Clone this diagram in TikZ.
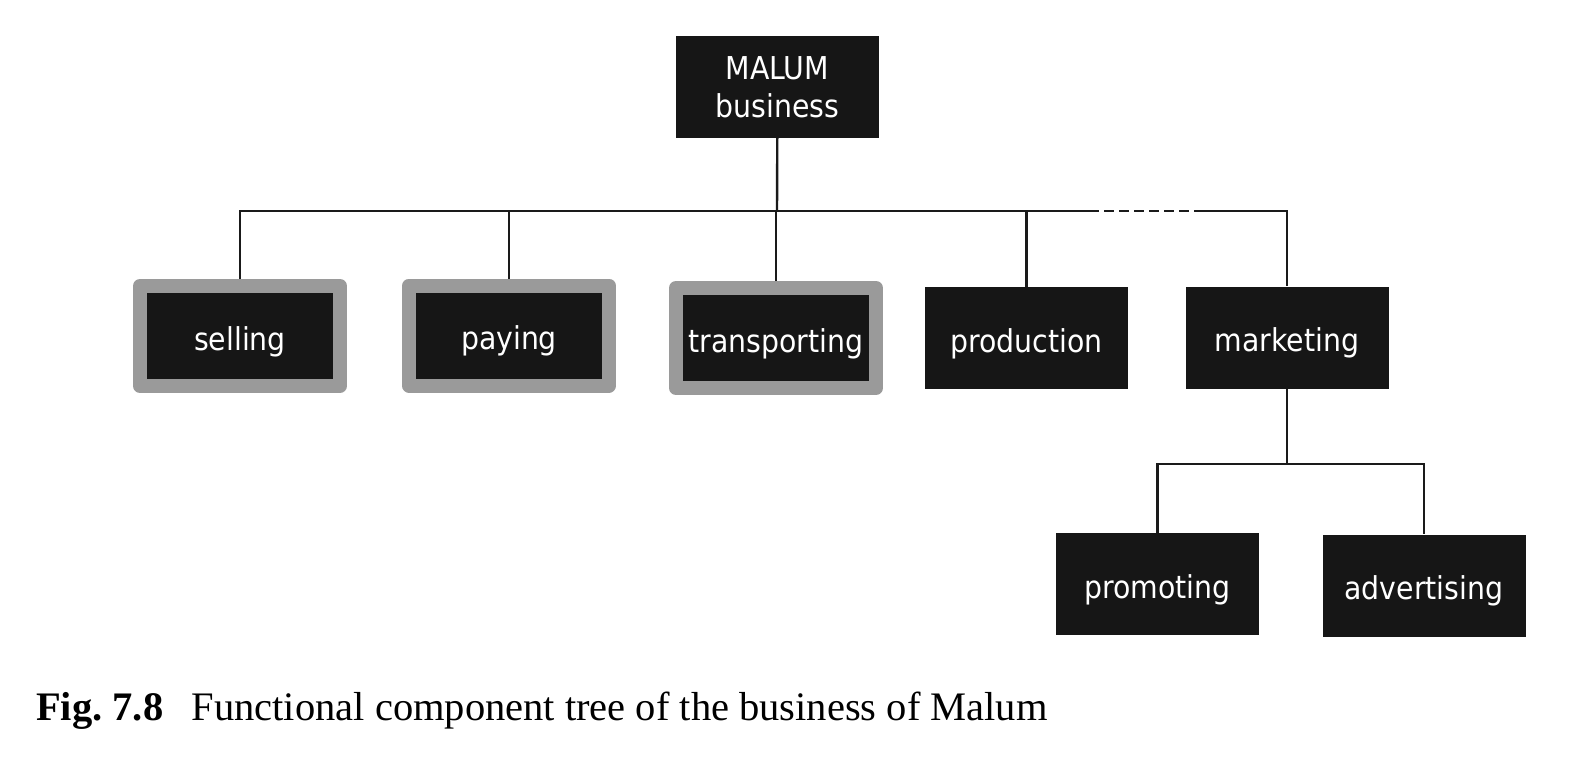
\documentclass[tikz,border=0pt]{standalone}
\usepackage{fontspec}
\setmainfont{Liberation Serif}
\newfontfamily\boxfont{DejaVu Sans Condensed}
\definecolor{boxblack}{HTML}{161616}
\definecolor{boxgray}{HTML}{9A9A9A}
\definecolor{linecol}{HTML}{1A1A1A}

\begin{document}
\begin{tikzpicture}[x=1pt, y=-1pt,
    block/.style = {fill=boxblack, text=white, inner sep=0pt,
        minimum width=203pt, minimum height=102pt, align=center,
        font=\boxfont\fontsize{31.5}{38}\selectfont},
    func/.style = {block, text height=28pt, text depth=0pt},
    framedfunc/.style = {func, draw=boxgray, line width=14pt,
        line join=round, outer sep=7pt,
        minimum width=200pt, minimum height=100pt},
    edge/.style = {draw=linecol, line width=2.4pt}]
            \useasboundingbox (0,0) rectangle (1580,770);

            % Nodes with manual coordinates
            \node[block] (top) at (777.5,87) {MALUM\\business};
            \node[framedfunc] (sell) at (240,336) {selling};
            \node[framedfunc] (pay) at (509,335.5) {paying};
            \node[framedfunc] (trans) at (776,338) {transporting};
            \node[func] (prod) at (1026.5,338) {production};
            \node[func] (mark) at (1287,337.5) {marketing};
            \node[func] (promo) at (1157.5,584) {promoting};
            \node[func] (adv) at (1424,585.5) {advertising};

            \coordinate (bus) at (777,211);
            \coordinate (gapl) at (1094,211);
            \coordinate (gapr) at (1200,211);
            \coordinate (sub) at (1287,464);

            % Edges
            \draw[edge] (top) -- (bus);
            \draw[edge] (sell.north) |- (gapl);
            \draw[edge, dash pattern=on 10pt off 5pt, dash phase=5pt] (gapl) -- (gapr);
            \draw[edge] (gapr) -| (mark.north);
            \draw[edge] (pay.north) -- (pay.north |- bus);
            \draw[edge] (trans.north) -- (trans.north |- bus);
            \draw[edge] (prod.north) -- (prod.north |- bus);
            \draw[edge] (mark) -- (sub);
            \draw[edge] (promo.north) |- (sub) -| (adv.north);

            % Caption
            \node[anchor=base west, inner sep=0pt,
                font=\fontsize{40.5}{48}\selectfont] (cap) at (36,720)
                {\textbf{Fig.\ 7.8}\hspace{0.7em}Functional component tree of the business of Malum};
        \end{tikzpicture}
\end{document}
